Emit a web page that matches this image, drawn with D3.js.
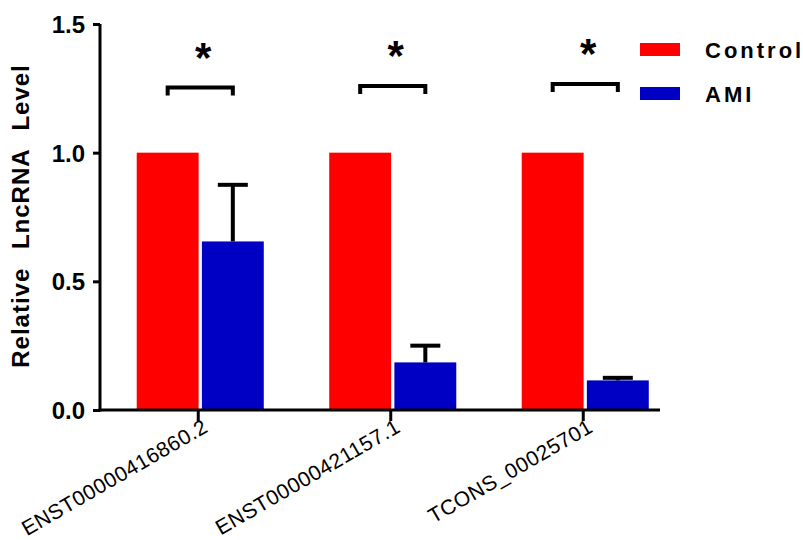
<!DOCTYPE html>
<html>
<head>
<meta charset="utf-8">
<script src="https://cdn.jsdelivr.net/npm/d3@7"></script>
<style>
  body { margin: 0; background: #fff; }
  text { font-family: Arial, "Liberation Sans", sans-serif; }
</style>
</head>
<body>
<div id="chart"></div>
<script>
// data
var categories = ["ENST00000416860.2", "ENST00000421157.1", "TCONS_00025701"];
var groups = ["Control", "AMI"];
var controlMean = [1.0, 1.0, 1.0];
var controlSD = [0, 0, 0];
var amiMean = [0.655, 0.185, 0.115];
var amiSD = [0.22, 0.065, 0.01];
var sigLevel = [1.253, 1.259, 1.267];
var sigLabel = ["*", "*", "*"];
var yTicks = [0, 0.5, 1.0, 1.5];
var colors = {Control: "#ff0000", AMI: "#0000c4"};

var width = 803, height = 540;

var svg = d3.select("#chart")
  .append("svg")
    .attr("width", width)
    .attr("height", height);

// scales
var y = d3.scaleLinear()
  .domain([0, 1.5])
  .range([410, 24]);

var x0 = d3.scaleBand()
  .domain(categories)
  .range([104, 681.5])
  .paddingInner(0.34)
  .paddingOuter(0.17);

var x1 = d3.scaleBand()
  .domain(groups)
  .range([0, x0.bandwidth()])
  .paddingInner(0.05);

var rows = [];
categories.forEach(function (c, i) {
  rows.push({cat: c, group: "Control", mean: controlMean[i], sd: controlSD[i]});
  rows.push({cat: c, group: "AMI", mean: amiMean[i], sd: amiSD[i]});
});

// bars
svg.append("g")
  .selectAll("rect")
  .data(rows)
  .enter()
  .append("rect")
    .attr("x", function (d) { return x0(d.cat) + x1(d.group); })
    .attr("y", function (d) { return y(d.mean); })
    .attr("width", x1.bandwidth())
    .attr("height", function (d) { return y(0) - y(d.mean); })
    .style("fill", function (d) { return colors[d.group]; });

// error bars (upper only)
var err = svg.append("g")
  .selectAll("g")
  .data(rows.filter(function (d) { return d.sd > 0; }))
  .enter()
  .append("g")
    .attr("stroke", "#000")
    .attr("stroke-width", 4);

err.append("line")
  .attr("x1", function (d) { return x0(d.cat) + x1(d.group) + x1.bandwidth() / 2; })
  .attr("x2", function (d) { return x0(d.cat) + x1(d.group) + x1.bandwidth() / 2; })
  .attr("y1", function (d) { return y(d.mean); })
  .attr("y2", function (d) { return y(d.mean + d.sd); });

err.append("line")
  .attr("x1", function (d) { return x0(d.cat) + x1(d.group) + x1.bandwidth() / 2 - 15; })
  .attr("x2", function (d) { return x0(d.cat) + x1(d.group) + x1.bandwidth() / 2 + 15; })
  .attr("y1", function (d) { return y(d.mean + d.sd); })
  .attr("y2", function (d) { return y(d.mean + d.sd); });

// Y axis
var yAxis = svg.append("g")
  .attr("transform", "translate(100,0)")
  .call(d3.axisLeft(y).tickValues(yTicks).tickSize(7).tickSizeOuter(0)
    .tickFormat(d3.format(".1f")));
yAxis.select(".domain")
  .attr("stroke-width", 3)
  .attr("d", "M0," + (y(1.5)) + "V" + (y(0) + 1.5));
yAxis.selectAll(".tick line").attr("stroke-width", 3);
yAxis.selectAll(".tick text")
  .attr("x", -15)
  .attr("dy", "0.36em")
  .style("font-size", "24px")
  .style("font-weight", "bold")
  .style("fill", "#000");

// X axis
var xAxis = svg.append("g")
  .attr("transform", "translate(0,410)")
  .call(d3.axisBottom(x0).tickSize(11).tickSizeOuter(0).tickFormat(""));
xAxis.select(".domain")
  .attr("stroke-width", 3)
  .attr("d", "M98.5,0H660");
xAxis.selectAll(".tick line")
  .attr("stroke-width", 3)
  .attr("transform", "translate(-2,0)");

svg.append("g")
  .selectAll("text")
  .data(categories)
  .enter()
  .append("text")
    .attr("transform", function (d) {
      return "translate(" + (x0(d) + x0.bandwidth() / 2 + 9) + "," + (y(0) + 21) + ") rotate(-30)";
    })
    .attr("text-anchor", "end")
    .style("font-size", "21px")
    .style("letter-spacing", "0.5px")
    .text(function (d) { return d; });

// Y axis title
svg.append("text")
  .attr("transform", "translate(29,216) rotate(-90)")
  .attr("text-anchor", "middle")
  .style("font-size", "24px")
  .style("font-weight", "bold")
  .style("letter-spacing", "1px")
  .style("word-spacing", "11px")
  .text("Relative LncRNA Level");

// significance brackets
var sig = svg.append("g")
  .selectAll("g")
  .data(categories)
  .enter()
  .append("g");

sig.append("path")
  .attr("d", function (d, i) {
    var xa = x0(d) + x1("Control") + x1.bandwidth() / 2;
    var xb = x0(d) + x1("AMI") + x1.bandwidth() / 2;
    var yy = y(sigLevel[i]);
    return "M" + xa + "," + (yy + 8) + "V" + yy + "H" + xb + "V" + (yy + 8);
  })
  .attr("fill", "none")
  .attr("stroke", "#000")
  .attr("stroke-width", 4);

sig.append("text")
  .attr("x", function (d) { return x0(d) + x0.bandwidth() / 2 + 3; })
  .attr("y", function (d, i) { return y(sigLevel[i]) - 16; })
  .attr("text-anchor", "middle")
  .style("font-size", "42px")
  .style("font-weight", "bold")
  .text(function (d, i) { return sigLabel[i]; });

// legend
var legend = svg.append("g")
  .selectAll("g")
  .data(groups)
  .enter()
  .append("g")
    .attr("transform", function (d, i) { return "translate(640," + (43 + i * 44) + ")"; });

legend.append("rect")
  .attr("width", 40)
  .attr("height", 13)
  .style("fill", function (d) { return colors[d]; });

legend.append("text")
  .attr("x", 65)
  .attr("y", 15)
  .style("font-size", "22px")
  .style("font-weight", "bold")
  .style("letter-spacing", "3px")
  .text(function (d) { return d; });
</script>
</body>
</html>
